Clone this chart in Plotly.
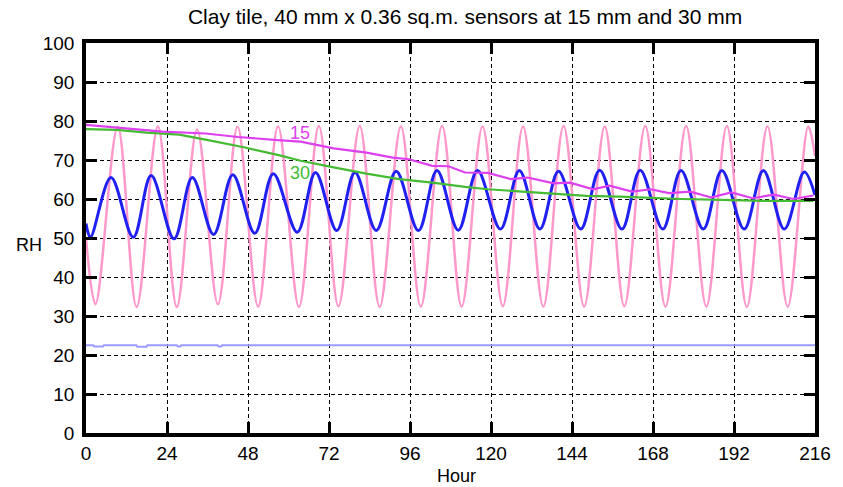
import plotly.graph_objects as go

# ---------------- data ----------------
# Outdoor-side RH (light pink), key points: start, troughs/peaks, end
pink_h = [0.0, 2.8, 9.4, 15.0, 21.3, 26.9, 32.9, 39.1, 44.9, 51.0, 56.9, 63.1, 69.0,
          74.8, 81.1, 87.0, 93.3, 99.2, 105.5, 111.3, 117.5, 123.5, 129.5, 135.5,
          141.5, 147.6, 153.7, 159.5, 165.7, 171.7, 177.8, 183.8, 189.9, 195.8,
          201.9, 207.9, 214.0, 216.0]
pink_rh = [50.0, 33.0, 78.5, 32.3, 78.6, 32.3, 77.8, 33.0, 78.5, 32.4, 78.6, 32.3, 78.7,
           32.5, 78.7, 32.3, 78.6, 32.4, 78.7, 32.4, 78.6, 32.5, 78.6, 32.4,
           78.7, 32.4, 78.6, 32.5, 78.7, 32.4, 78.7, 32.4, 78.7, 32.3,
           78.6, 32.4, 78.6, 71.0]

# Chamber RH (dark blue)
blue_h = [0.0, 1.3, 7.4, 14.0, 19.3, 26.1, 31.5, 37.8, 43.5, 50.0, 55.5, 62.6, 68.0,
          74.3, 79.7, 86.0, 91.9, 98.5, 104.0, 110.3, 116.0, 122.8, 128.4, 134.5,
          140.0, 146.6, 152.2, 158.8, 164.2, 170.9, 176.3, 182.9, 188.4, 195.0,
          200.7, 206.9, 212.8, 216.0]
blue_rh = [53.7, 50.2, 65.5, 50.2, 66.0, 49.8, 65.5, 50.9, 66.2, 51.2, 66.5, 51.5, 66.8,
           51.9, 66.8, 51.9, 67.1, 51.9, 67.3, 52.0, 67.3, 52.3, 67.3, 52.3,
           67.1, 52.3, 67.4, 52.3, 67.4, 52.3, 67.3, 52.3, 67.3, 52.3,
           67.3, 52.3, 66.9, 61.0]

# Sensor at 15 mm (magenta)
s15_h = [0.0, 10.1, 22.7, 35.4, 45.1, 56.8, 63.6, 73.4, 83.1, 90.9, 95.7, 102.6, 107.4,
         112.3, 115.2, 119.1, 125.9, 130.8, 138.6, 143.4, 150.3, 155.1, 161.8, 167.3,
         172.7, 179.0, 185.3, 191.2, 197.5, 203.8, 209.6, 215.5]
s15_rh = [79.0, 78.3, 77.3, 76.8, 75.9, 75.1, 74.7, 73.0, 71.9, 70.6, 70.2, 68.5, 68.4,
          66.8, 66.8, 66.7, 65.1, 65.5, 64.0, 64.2, 62.5, 63.4, 61.9, 62.5,
          61.5, 61.9, 60.4, 61.7, 60.2, 61.1, 60.0, 60.9]

# Sensor at 30 mm (green)
s30_h = [0.0, 9.1, 17.9, 27.6, 37.3, 47.1, 56.8, 63.6, 73.4, 83.1, 92.8, 102.6, 112.3,
         119.1, 129.3, 138.6, 148.3, 158.1, 167.8, 176.5, 191.2, 200.9, 215.5]
s30_rh = [77.9, 77.7, 77.0, 76.5, 74.9, 73.2, 71.3, 69.8, 68.1, 66.5, 65.1, 64.2, 63.1,
          62.5, 61.9, 61.4, 60.8, 60.6, 60.2, 60.0, 59.7, 59.5, 59.5]

# Lower reference RH (light blue)
low_h = [0.0, 2.1, 2.4, 5.0, 5.3, 14.9, 15.2, 17.9, 18.2, 26.9, 27.2, 27.9, 28.2,
         39.0, 39.3, 40.0, 40.3, 216.0]
low_rh = [22.5, 22.5, 22.2, 22.2, 22.5, 22.5, 22.1, 22.1, 22.5, 22.5, 22.2, 22.2, 22.5,
          22.5, 22.2, 22.2, 22.5, 22.5]

x_ticks = [0, 24, 48, 72, 96, 120, 144, 168, 192, 216]
y_ticks = [0, 10, 20, 30, 40, 50, 60, 70, 80, 90, 100]

title_text = "Clay tile, 40 mm x 0.36 sq.m. sensors at 15 mm and 30 mm"
FONT = "Liberation Sans, Arial, sans-serif"

fig = go.Figure()
fig.add_trace(go.Scatter(x=low_h, y=low_rh, mode="lines",
                         line=dict(color="#9a9aff", width=2), showlegend=False))
fig.add_trace(go.Scatter(x=pink_h, y=pink_rh, mode="lines",
                         line=dict(color="#ff99cc", width=2.5, shape="spline", smoothing=1),
                         showlegend=False))
fig.add_trace(go.Scatter(x=blue_h, y=blue_rh, mode="lines",
                         line=dict(color="#2020f0", width=3, shape="spline", smoothing=1),
                         showlegend=False))
fig.add_trace(go.Scatter(x=s30_h, y=s30_rh, mode="lines",
                         line=dict(color="#44bb33", width=2.2), showlegend=False))
fig.add_trace(go.Scatter(x=s15_h, y=s15_rh, mode="lines",
                         line=dict(color="#dd40ee", width=2.2), showlegend=False))

fig.add_annotation(x=63.5, y=76.9, text="15", showarrow=False,
                   font=dict(family=FONT, size=18, color="#dd40ee"))
fig.add_annotation(x=63.3, y=66.6, text="30", showarrow=False,
                   font=dict(family=FONT, size=18, color="#44bb33"))
fig.add_annotation(xref="paper", yref="paper", x=-0.078, y=0.482, text="RH",
                   xanchor="center", yanchor="middle",
                   showarrow=False, font=dict(family=FONT, size=18, color="black"))
fig.add_annotation(xref="paper", yref="paper", x=0.508, y=-0.110, text="Hour",
                   xanchor="center", yanchor="middle", showarrow=False,
                   font=dict(family=FONT, size=18, color="black"))

axis_common = dict(
    showline=True, linecolor="black", linewidth=3.5, mirror="ticks",
    ticks="inside", ticklen=11, tickwidth=2.5, tickcolor="black",
    showgrid=True, gridcolor="black", gridwidth=1, griddash="4px,3px",
    zeroline=False, tickfont=dict(family=FONT, size=19, color="black"),
)

fig.update_layout(
    width=843, height=487,
    margin=dict(l=86, r=18, t=43, b=54),
    paper_bgcolor="white", plot_bgcolor="white",
    title=dict(text=title_text, x=0.52, xref="paper", xanchor="center",
               y=1 - 17 / 487, yanchor="middle",
               font=dict(family=FONT, size=21, color="black")),
    xaxis=dict(range=[0, 216], tickvals=x_ticks, ticktext=[str(v) for v in x_ticks],
               **axis_common),
    yaxis=dict(range=[0, 100], tickvals=y_ticks, ticktext=[str(v) for v in y_ticks],
               ticklabelstandoff=4, **axis_common),
)

fig.write_html("out.html")
